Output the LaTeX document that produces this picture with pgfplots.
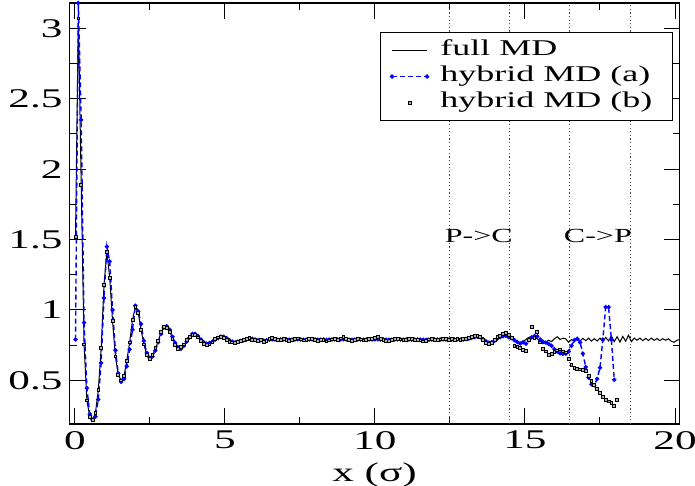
\documentclass[border=0pt]{standalone}
\usepackage{pgfplots}
\usepackage{pgfplotstable}
\pgfplotsset{compat=1.18}
\usepackage{fontspec}
\setmainfont{Liberation Serif}[FakeStretch=1.6]

\pgfplotsset{
    legfull/.style={legend image code/.code={\draw[##1] (0pt,0pt) -- (17.5pt,0pt);}},
    lega/.style={legend image code/.code={\draw[##1] plot coordinates {(0pt,0pt) (17.5pt,0pt)};}},
    legb/.style={legend image code/.code={\draw[##1] plot coordinates {(8.75pt,0pt)};}},
}

% columns: x, full MD, hybrid MD (a), hybrid MD (b)
\pgfplotstableread{
x F A B
0.02 1.52 0.79 1.52
0.115 3.07 3.18 3.07
0.21 1.89 2.35 1.89
0.305 0.755 0.91 0.755
0.40 0.357 0.445 0.357
0.495 0.243 0.26 0.243
0.59 0.22 0.22 0.22
0.685 0.27 0.243 0.27
0.78 0.43 0.364 0.43
0.875 0.728 0.624 0.728
0.97 1.18 1.085 1.18
1.065 1.41 1.45 1.41
1.16 1.23 1.345 1.23
1.255 0.92 1.0 0.92
1.35 0.67 0.714 0.67
1.445 0.54 0.55 0.54
1.54 0.50 0.49 0.50
1.635 0.53 0.51 0.53
1.73 0.64 0.60 0.64
1.825 0.77 0.72 0.77
1.92 0.93 0.86 0.93
2.015 1.02 1.03 1.02
2.11 0.98 0.99 0.98
2.205 0.86 0.90 0.86
2.30 0.755 0.78 0.755
2.395 0.68 0.695 0.68
2.49 0.65 0.66 0.65
2.585 0.68 0.67 0.68
2.68 0.72 0.71 0.73
2.775 0.78 0.77 0.78
2.87 0.84 0.83 0.845
2.965 0.88 0.875 0.88
3.06 0.88 0.885 0.875
3.155 0.85 0.86 0.845
3.25 0.80 0.81 0.795
3.345 0.755 0.765 0.75
3.44 0.73 0.735 0.725
3.535 0.73 0.725 0.735
3.63 0.75 0.745 0.755
3.725 0.78 0.775 0.785
3.82 0.81 0.805 0.81
3.915 0.83 0.83 0.825
4.01 0.825 0.83 0.82
4.105 0.81 0.815 0.805
4.20 0.785 0.79 0.78
4.295 0.765 0.77 0.76
4.39 0.755 0.76 0.75
4.485 0.76 0.765 0.755
4.58 0.775 0.775 0.77
4.675 0.79 0.79 0.795
4.77 0.805 0.80 0.805
4.865 0.81 0.81 0.81
4.96 0.805 0.81 0.80
5.055 0.795 0.80 0.79
5.15 0.78 0.785 0.775
5.245 0.77 0.775 0.77
5.34 0.767 0.77 0.765
5.435 0.77 0.775 0.775
5.53 0.778 0.78 0.78
5.625 0.787 0.785 0.79
5.72 0.795 0.79 0.795
5.815 0.797 0.795 0.80
5.91 0.793 0.795 0.79
6.005 0.787 0.79 0.785
6.10 0.782 0.785 0.78
6.195 0.78 0.785 0.785
6.29 0.776 0.782 0.772
6.385 0.783 0.785 0.778
6.48 0.790 0.789 0.792
6.575 0.795 0.791 0.803
6.67 0.791 0.790 0.795
6.765 0.787 0.788 0.785
6.86 0.789 0.790 0.788
6.955 0.793 0.792 0.796
7.05 0.790 0.791 0.790
7.145 0.786 0.788 0.783
7.24 0.788 0.789 0.786
7.335 0.792 0.791 0.795
7.43 0.794 0.792 0.798
7.525 0.790 0.790 0.791
7.62 0.787 0.788 0.784
7.715 0.789 0.789 0.790
7.81 0.791 0.790 0.793
7.905 0.793 0.791 0.796
8.00 0.789 0.790 0.787
8.095 0.786 0.788 0.782
8.19 0.788 0.789 0.785
8.285 0.791 0.790 0.789
8.38 0.786 0.788 0.776
8.475 0.788 0.789 0.784
8.57 0.790 0.790 0.791
8.665 0.792 0.791 0.794
8.76 0.789 0.790 0.790
8.855 0.793 0.791 0.798
8.95 0.798 0.792 0.810
9.045 0.792 0.791 0.796
9.14 0.788 0.789 0.785
9.235 0.786 0.788 0.782
9.33 0.789 0.789 0.788
9.425 0.792 0.790 0.794
9.52 0.790 0.790 0.791
9.615 0.787 0.789 0.784
9.71 0.790 0.790 0.790
9.805 0.793 0.791 0.795
9.90 0.791 0.790 0.792
9.995 0.794 0.791 0.799
10.09 0.798 0.792 0.808
10.185 0.792 0.791 0.795
10.28 0.789 0.790 0.787
10.375 0.787 0.789 0.783
10.47 0.785 0.788 0.778
10.565 0.788 0.789 0.785
10.66 0.791 0.790 0.792
10.755 0.793 0.791 0.796
10.85 0.790 0.790 0.791
10.945 0.787 0.789 0.785
11.04 0.789 0.790 0.789
11.135 0.792 0.790 0.795
11.23 0.790 0.790 0.792
11.325 0.788 0.789 0.786
11.42 0.790 0.790 0.790
11.515 0.787 0.789 0.784
11.61 0.784 0.788 0.776
11.705 0.786 0.788 0.780
11.80 0.790 0.789 0.791
11.895 0.792 0.790 0.795
11.99 0.790 0.790 0.790
12.085 0.788 0.789 0.786
12.18 0.790 0.790 0.791
12.275 0.793 0.791 0.797
12.37 0.791 0.790 0.792
12.465 0.788 0.789 0.786
12.56 0.790 0.789 0.792
12.655 0.788 0.790 0.785
12.75 0.791 0.792 0.795
12.845 0.789 0.788 0.787
12.94 0.792 0.790 0.796
13.035 0.795 0.793 0.792
13.13 0.800 0.797 0.803
13.225 0.806 0.803 0.808
13.32 0.811 0.807 0.814
13.415 0.812 0.810 0.816
13.51 0.805 0.806 0.810
13.605 0.790 0.793 0.785
13.70 0.772 0.778 0.768
13.795 0.763 0.768 0.760
13.89 0.768 0.770 0.765
13.985 0.785 0.782 0.788
14.08 0.802 0.797 0.806
14.175 0.815 0.808 0.818
14.27 0.826 0.814 0.830
14.365 0.832 0.816 0.836
14.46 0.818 0.806 0.825
14.555 0.800 0.800 0.800
14.65 0.782 0.785 0.745
14.745 0.770 0.772 0.735
14.84 0.765 0.762 0.728
14.935 0.775 0.770 0.715
15.03 0.790 0.760 0.708
15.125 0.805 0.785 0.790
15.22 0.812 0.805 0.880
15.315 0.808 0.815 0.800
15.41 0.795 0.812 0.842
15.505 0.775 0.790 0.770
15.60 0.760 0.775 0.726
15.695 0.770 0.768 0.705
15.79 0.785 0.758 0.678
15.885 0.775 0.745 0.690
15.98 0.795 0.722 0.700
16.075 0.810 0.705 0.712
16.17 0.790 0.692 0.720
16.265 0.800 0.688 0.705
16.36 0.795 0.690 0.698
16.455 0.770 0.705 0.650
16.55 0.790 0.745 0.612
16.645 0.778 0.785 0.590
16.74 0.800 0.795 0.580
16.835 0.780 0.770 0.578
16.93 0.798 0.690 0.572
17.025 0.782 0.595 0.567
17.12 0.800 0.520 0.530
17.215 0.778 0.472 0.497
17.31 0.796 0.465 0.465
17.405 0.780 0.510 0.440
17.50 0.800 0.590 0.410
17.595 0.775 0.790 0.380
17.69 0.805 1.020 0.362
17.785 0.780 1.020 0.350
17.88 0.815 0.790 0.340
17.975 0.775 0.505 0.318
18.07 0.810 nan 0.362
18.165 0.772 nan nan
18.26 0.812 nan nan
18.355 0.778 nan nan
18.45 0.820 nan nan
18.545 0.775 nan nan
18.64 0.800 nan nan
18.735 0.785 nan nan
18.83 0.800 nan nan
18.925 0.782 nan nan
19.02 0.798 nan nan
19.115 0.783 nan nan
19.21 0.800 nan nan
19.305 0.784 nan nan
19.40 0.797 nan nan
19.495 0.782 nan nan
19.59 0.796 nan nan
19.685 0.785 nan nan
19.78 0.795 nan nan
19.875 0.778 nan nan
19.97 0.770 nan nan
20.065 0.785 nan nan
20.16 0.790 nan nan
}\gr

\begin{document}
\begin{tikzpicture}
\begin{axis}[
    name=ax,
    scale only axis,
    width=305pt, height=210.5pt,
    xmin=-0.18, xmax=20.15,
    ymin=0.19, ymax=3.18,
    xtick={0,5,10,15,20},
    ytick={0.5,1,1.5,2,2.5,3},
    minor x tick num=1, minor y tick num=1,
    tick align=inside, tick pos=both,
    major tick length=8pt, minor tick length=3.5pt,
    tick style={black, line width=0.5pt},
    axis line style={black, line width=0.8pt},
    /pgf/number format/assume math mode=true,
    ticklabel style={font=\fontsize{13.5}{16}\selectfont},
    xlabel={x (σ)},
    xlabel style={font=\fontsize{13.5}{16}\selectfont, yshift=0pt},
    legend style={at={(1,1)}, anchor=north east, xshift=-3.25pt, yshift=-14.5pt,
        draw=black, line width=0.6pt, font=\fontsize{11.25}{13}\selectfont,
        inner xsep=5pt, inner ysep=2.5pt,
        nodes={inner sep=1pt, text height=0.8em, text depth=0.3em}},
    legend cell align=left,
    unbounded coords=discard,
    clip=true,
]
\draw[gray!60!black, line width=0.5pt, dash pattern=on 0.6pt off 1.2pt]
    (axis cs:12.5,0.19) -- (axis cs:12.5,3.18)
    (axis cs:14.5,0.19) -- (axis cs:14.5,3.18)
    (axis cs:16.5,0.19) -- (axis cs:16.5,3.18)
    (axis cs:18.5,0.19) -- (axis cs:18.5,3.18);
\node[anchor=base, font=\fontsize{10}{12}\selectfont] at (axis cs:13.46,1.476) {P->C};
\node[anchor=base, font=\fontsize{10}{12}\selectfont] at (axis cs:17.43,1.476) {C->P};

\addplot[black, line width=0.5pt, no marks, legfull]
    table[x=x, y=F] {\gr};
\addlegendentry{\hspace*{5pt}full MD}
\addplot[blue, line width=0.7pt, dash pattern=on 2.5pt off 1.5pt,
    mark=*, mark size=0.7pt, mark options={solid}, lega]
    table[x=x, y=A] {\gr};
\addlegendentry{\hspace*{5pt}hybrid MD (a)\hspace*{4pt}}
\addplot[black, only marks, mark=square*, mark size=0.7pt, line width=0.4pt,
    mark options={fill=gray!60}, legb]
    table[x=x, y=B] {\gr};
\addlegendentry{\hspace*{5pt}hybrid MD (b)\hspace*{4pt}}
\end{axis}
\pgfresetboundingbox
\path ([shift={(-34.75pt,-31pt)}]ax.south west) rectangle ([shift={(7.75pt,1.5pt)}]ax.north east);
\end{tikzpicture}
\end{document}
